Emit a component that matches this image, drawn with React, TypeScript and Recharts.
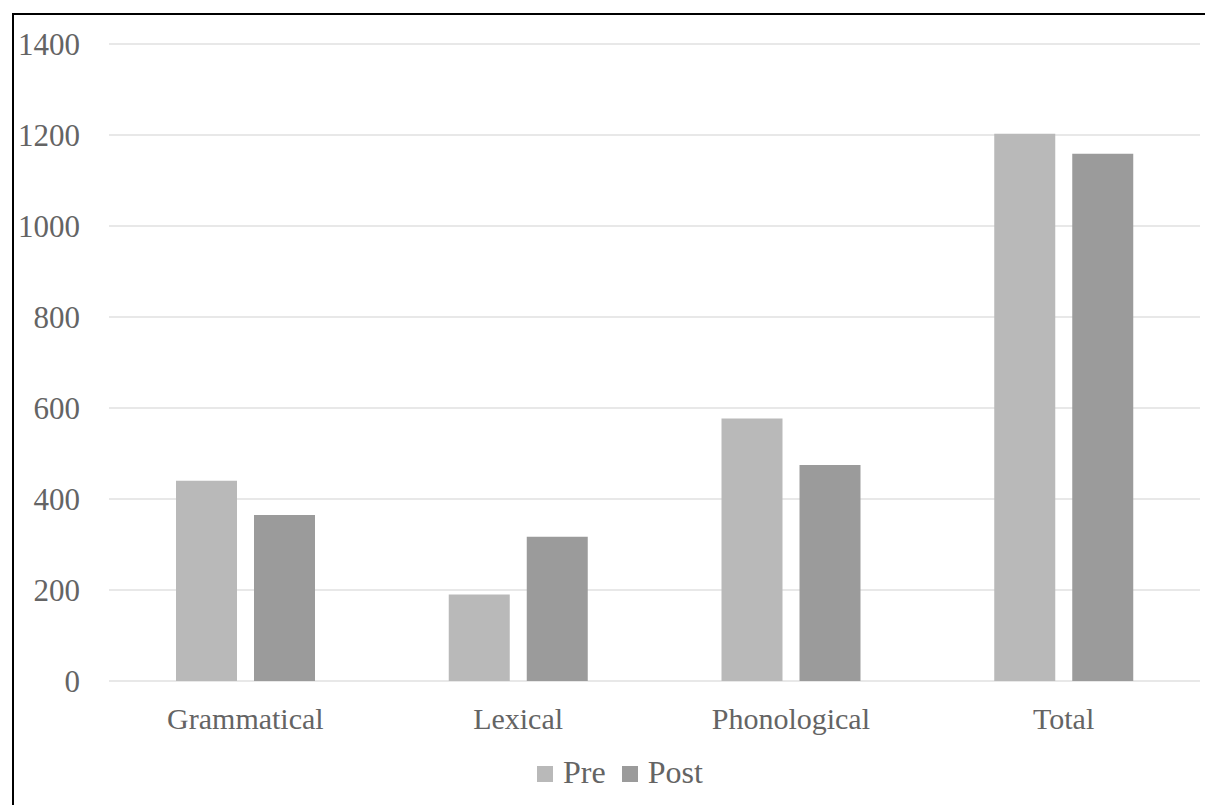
import React from 'react';
import { BarChart, Bar, XAxis, YAxis, CartesianGrid, Legend } from 'recharts';

const categories = ['Grammatical', 'Lexical', 'Phonological', 'Total'];
const preScores = [440, 190, 577, 1203];
const postScores = [365, 317, 475, 1159];
const yTicks = [0, 200, 400, 600, 800, 1000, 1200, 1400];

const PRE_COLOR = '#b9b9b9';
const POST_COLOR = '#9b9b9b';
const TEXT_COLOR = '#646464';
const FONT = '"Liberation Serif", "Times New Roman", serif';

const data = categories.map((name, i) => ({
    name,
    pre: preScores[i],
    post: postScores[i],
}));

const seriesLabels = [
    { key: 'pre', label: 'Pre', color: PRE_COLOR },
    { key: 'post', label: 'Post', color: POST_COLOR },
];

const ScoreLegend = () => (
    <div
        style={{
            height: 36,
            display: 'flex',
            alignItems: 'center',
            paddingLeft: 537,
            fontFamily: FONT,
            fontSize: 32,
            lineHeight: '36px',
            color: TEXT_COLOR,
        }}
    >
        {seriesLabels.map((s, i) => (
            <div key={s.key} style={{ display: 'flex', alignItems: 'flex-end', marginLeft: i ? 16 : 0 }}>
                <div style={{ width: 16, height: 16, background: s.color, marginBottom: 8 }} />
                <span style={{ marginLeft: 10 }}>{s.label}</span>
            </div>
        ))}
    </div>
);

export default function App() {
    return (
        <div style={{ position: 'absolute', left: 0, top: 0, width: 1205, height: 805, background: '#fff', overflow: 'hidden' }}>
            <BarChart
                width={1205}
                height={805}
                data={data}
                margin={{ top: 44, right: 5, bottom: 15, left: 0 }}
                barSize={61}
                barGap={17}
            >
                <CartesianGrid vertical={false} stroke="#e8e8e8" strokeWidth={2} />
                <XAxis
                    dataKey="name"
                    axisLine={false}
                    tickLine={false}
                    tickSize={0}
                    tickMargin={27}
                    height={73}
                    interval={0}
                    tick={{ fill: TEXT_COLOR, fontSize: 30, fontFamily: FONT }}
                />
                <YAxis
                    domain={[0, 1400]}
                    ticks={yTicks}
                    axisLine={false}
                    tickLine={false}
                    tickSize={0}
                    tickMargin={29}
                    width={109}
                    tick={{ fill: TEXT_COLOR, fontSize: 31, fontFamily: FONT }}
                />
                <Legend
                    verticalAlign="bottom"
                    content={<ScoreLegend />}
                    wrapperStyle={{ left: 0, width: 1205 }}
                />
                <Bar dataKey="pre" name="Pre" fill={PRE_COLOR} isAnimationActive={false} />
                <Bar dataKey="post" name="Post" fill={POST_COLOR} isAnimationActive={false} />
            </BarChart>
            <div
                style={{
                    position: 'absolute',
                    left: 12,
                    top: 13,
                    width: 1210,
                    height: 810,
                    borderTop: '2px solid #000',
                    borderLeft: '2px solid #000',
                    boxSizing: 'border-box',
                    pointerEvents: 'none',
                }}
            />
        </div>
    );
}
